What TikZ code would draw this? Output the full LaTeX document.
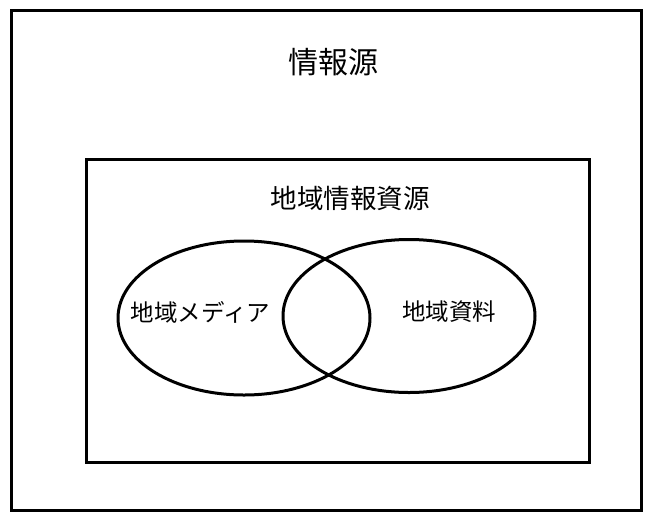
\documentclass[tikz,border=0pt]{standalone}
\usepackage{fontspec}
\newfontfamily\jpfont{Noto Sans CJK JP}
\usetikzlibrary{shapes.geometric}
\begin{document}
\begin{tikzpicture}[x=1pt,y=-1pt,
  frame/.style={draw=black,line width=3pt},
  venn/.style={draw=black,line width=3pt},
  lbl/.style={inner sep=0pt,font=\jpfont}]
\useasboundingbox (0,0) rectangle (653,512);
\node[frame,minimum width=630pt,minimum height=500pt,inner sep=0pt] (outer) at (326,260) {};
\node[frame,minimum width=503pt,minimum height=303pt,inner sep=0pt] (inner) at (337.5,310.5) {};
\node[venn,ellipse,minimum width=252pt,minimum height=154pt,inner sep=0pt] (media) at (244,318) {};
\node[venn,ellipse,minimum width=252pt,minimum height=153pt,inner sep=0pt] (shiryo) at (409,316) {};
\node[lbl,font=\jpfont\fontsize{30}{30}\selectfont] (t1) at (333,62) {情報源};
\node[lbl,font=\jpfont\fontsize{26.5}{26.5}\selectfont] (t2) at (350,198) {地域情報資源};
\node[lbl,font=\jpfont\fontsize{23.5}{23.5}\selectfont] (t3) at (200.5,312) {地域メディア};
\node[lbl,font=\jpfont\fontsize{23.5}{23.5}\selectfont] (t4) at (449,312) {地域資料};
\end{tikzpicture}
\end{document}
